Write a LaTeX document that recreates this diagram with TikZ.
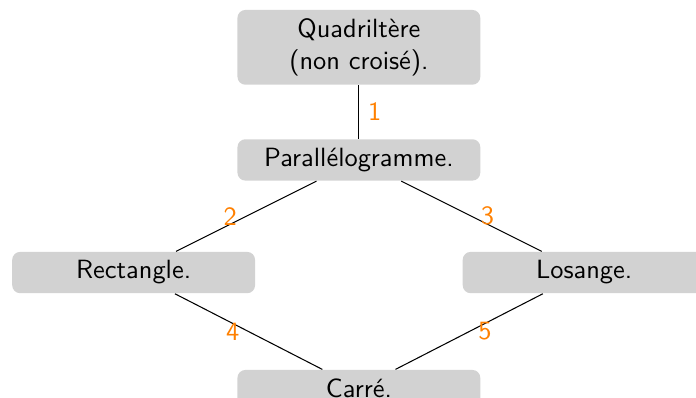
\documentclass[tikz,border=0pt]{standalone}
\usepackage{xcolor}
\usepackage{tikz}
\usetikzlibrary{positioning}
\definecolor{fondgris}{gray}{0.825}
\definecolor{numorange}{RGB}{255,128,0}
\tikzset{
  % boite des figures
  forme/.style={
    fill=fondgris,
    rounded corners=3pt,
    text width=3cm,
    align=center,
    font=\sffamily
  },
  % numero sur les traits
  num/.style={font=\sffamily, text=numorange},
  % traits
  lien/.style={black},
}
\begin{document}
\begin{tikzpicture}
    \useasboundingbox (-4.78,-3.17) rectangle (4.49,2.13);

    % Figures
    \node[forme] (quad) at (0, 1.5) {Quadriltère\\(non croisé).};
    \node[forme] (para) at (0, 0) {Parallélogramme.};
    \node[forme] (rect) at (-3, -1.5) {Rectangle.};
    \node[forme] (los) at (3, -1.5) {Losange.};
    \node[forme] (carre) at (0, -3.04) {Carré.};

    % Liens
    \draw[lien] (quad) -- node[num, right] {1} (para);
    \draw[lien] (para) -- node[num, left] {2} (rect);
    \draw[lien] (para) -- node[num, right] {3} (los);
    \draw[lien] (rect) -- node[num, left] {4} (carre);
    \draw[lien] (los) -- node[num, right] {5} (carre);
\end{tikzpicture}
\end{document}
